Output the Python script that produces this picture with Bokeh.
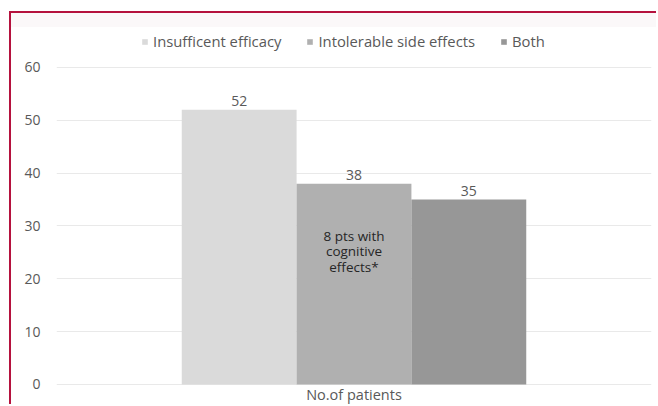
from bokeh.plotting import figure
from bokeh.models import (ColumnDataSource, FactorRange, Range1d, FixedTicker,
                          Legend, LegendItem)
from bokeh.transform import dodge
from bokeh.core.properties import value
from bokeh.embed import file_html
from bokeh.resources import INLINE

# Data
categories = ["No.of patients"]
series_names = ["Insufficent efficacy", "Intolerable side effects", "Both"]
series_values = [52, 38, 35]
series_colors = ["#dadada", "#b0b0b0", "#979797"]
note_text = "8 pts with\ncognitive\neffects*"
note_value = 25.2
y_ticks = [0, 10, 20, 30, 40, 50, 60]

FONT = "Open Sans"
TXT = "#595959"
CATEGORY_LABEL_Y = -1.95   # category name sits just under the zero line

p = figure(width=647, height=393, output_backend="svg", toolbar_location=None,
           x_range=FactorRange(*categories), y_range=Range1d(-4.164, 67.38),
           x_axis_location=None,
           min_border_left=45, min_border_right=7, min_border_top=15,
           min_border_bottom=0,
           background_fill_alpha=0, border_fill_alpha=0, outline_line_color=None)

# crimson frame round the chart, with a faint band along its top edge
p.styles = {
    "margin-left": "9px",
    "margin-top": "11px",
    "border-left": "2px solid #b5123e",
    "border-top": "2px solid #b5123e",
    "background": "linear-gradient(to bottom, #fbf8f9 0px, #fbf8f9 14px, #ffffff 14px)",
}

bar_w = 0.193
offsets = [-bar_w, 0.0, bar_w]
items = []
for name, val, col, off in zip(series_names, series_values, series_colors, offsets):
    src = ColumnDataSource(dict(cat=categories, val=[val], lbl=[str(val)]))
    r = p.vbar(x=dodge("cat", off, range=p.x_range), top="val", width=bar_w,
               source=src, fill_color=col, line_color=None)
    items.append(LegendItem(label=name, renderers=[r]))
    p.text(x=dodge("cat", off, range=p.x_range), y="val", text="lbl", source=src,
           text_align="center", text_baseline="bottom", y_offset=-4,
           text_font=value(FONT), text_font_size="14px", text_color=TXT)

# annotation inside the middle bar
note_src = ColumnDataSource(dict(cat=categories, y=[note_value], t=[note_text]))
p.text(x=dodge("cat", offsets[1], range=p.x_range), y="y", text="t", source=note_src,
       text_align="center", text_baseline="middle", text_line_height=0.85,
       text_font=value(FONT), text_font_size="13.5px", text_color="#262626")

# category name under the bars
cat_src = ColumnDataSource(dict(cat=categories, y=[CATEGORY_LABEL_Y] * len(categories)))
p.text(x="cat", y="y", text="cat", source=cat_src,
       text_align="center", text_baseline="middle",
       text_font=value(FONT), text_font_size="14.5px", text_color=TXT)

legend = Legend(items=items, orientation="horizontal", location=(85, 355),
                padding=0, margin=0, spacing=25, label_standoff=5,
                glyph_width=7, glyph_height=7, label_height=20,
                border_line_color=None, background_fill_alpha=0,
                label_text_font=FONT, label_text_font_size="14.8px",
                label_text_color=TXT)
p.add_layout(legend)

# y axis and grid
p.yaxis.ticker = FixedTicker(ticks=y_ticks)
p.yaxis.axis_line_color = None
p.yaxis.major_tick_line_color = None
p.yaxis.minor_tick_line_color = None
p.yaxis.major_label_standoff = 10
p.yaxis.major_label_text_font = FONT
p.yaxis.major_label_text_font_size = "14px"
p.yaxis.major_label_text_color = TXT

p.xgrid.grid_line_color = None
p.ygrid.ticker = FixedTicker(ticks=y_ticks)
p.ygrid.grid_line_color = "#e9e9e9"
p.ygrid.grid_line_width = 1

open("out.html", "w").write(file_html(p, INLINE))
